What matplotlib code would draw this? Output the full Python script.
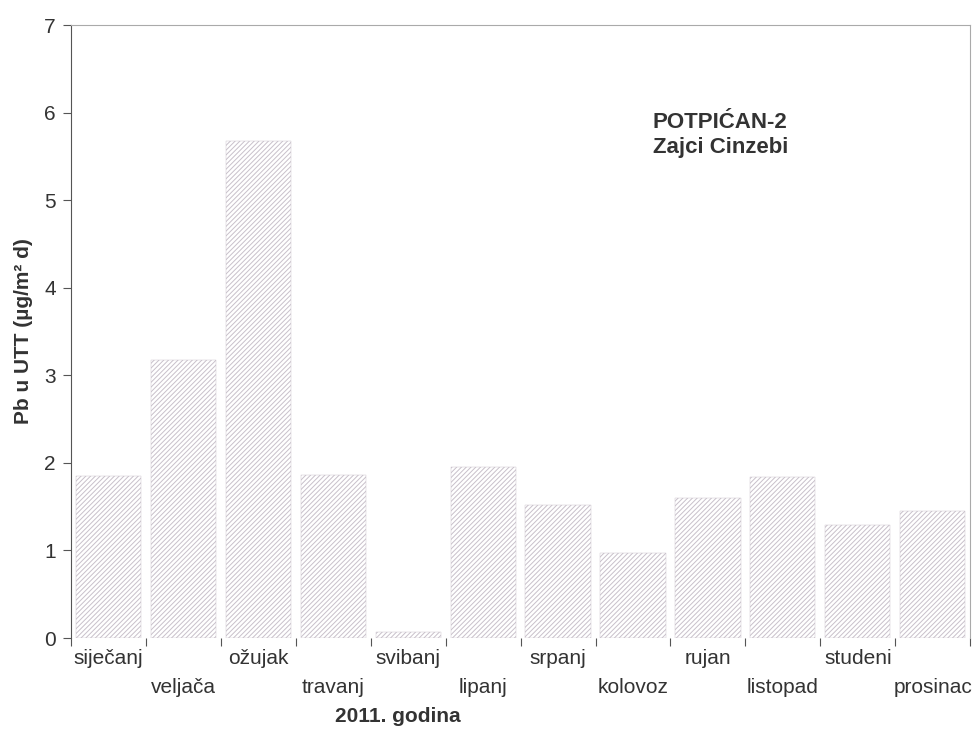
import numpy as np
import matplotlib
matplotlib.use('Agg')
import matplotlib.pyplot as plt

months = ['siječanj', 'veljača', 'ožujak', 'travanj', 'svibanj', 'lipanj',
          'srpanj', 'kolovoz', 'rujan', 'listopad', 'studeni', 'prosinac']
pb_values = [1.85, 3.17, 5.67, 1.86, 0.07, 1.95, 1.52, 0.97, 1.60, 1.84, 1.29, 1.45]
y_ticks = [0, 1, 2, 3, 4, 5, 6, 7]


def main():
	'''draw the chart'''

	plt.rcParams['font.family'] = ['Liberation Sans', 'DejaVu Sans']
	plt.rcParams['hatch.linewidth'] = 0.7

	fig = plt.figure(figsize=(9.78, 7.29), dpi=100)
	ax = fig.add_axes([0.0726, 0.1248, 0.9194, 0.8409])

	x = np.arange(len(months))
	ax.bar(x, pb_values, width=0.87, color='white', edgecolor='#c8c0ca',
		linewidth=0.3, hatch='///////')

	ax.set_xlim(-0.5, len(months) - 0.5)
	ax.set_ylim(0, 7)
	ax.set_yticks(y_ticks)
	ax.tick_params(axis='y', labelsize=15, colors='#555555', length=6, width=0.8,
		labelcolor='#333333', pad=5)

	# ticks sit on category boundaries, labels alternate between two rows
	ax.set_xticks(np.arange(len(months) + 1) - 0.5)
	ax.set_xticklabels([])
	ax.tick_params(axis='x', length=6, width=0.8, colors='#555555')
	for i, name in enumerate(months):
		row = 0 if i % 2 == 0 else 1
		ax.annotate(name, xy=(i, 0), xycoords=('data', 'axes fraction'),
			xytext=(0, -8 - row * 20.5), textcoords='offset points',
			ha='center', va='top', fontsize=15, color='#333333')

	ax.spines['left'].set_color('#555555')
	ax.spines['top'].set_color('#aaaaaa')
	ax.spines['right'].set_color('#aaaaaa')
	ax.spines['bottom'].set_visible(False)
	for s in ['left', 'top', 'right']:
		ax.spines[s].set_linewidth(0.8)

	ax.set_ylabel('Pb u UTT (µg/m² d)', fontsize=15, fontweight='bold',
		color='#333333', labelpad=8)
	fig.text(0.407, 0.004, '2011. godina', fontsize=15, fontweight='bold',
		color='#333333', ha='center', va='bottom')

	ax.text(0.722, 0.82, 'POTPIĆAN-2\nZajci Cinzebi', transform=ax.transAxes,
		fontsize=16, fontweight='bold', color='#333333', ha='center',
		va='center', multialignment='center', linespacing=1.25)

	fig.savefig('out.png', dpi=100)


if __name__ == '__main__':
	main()
